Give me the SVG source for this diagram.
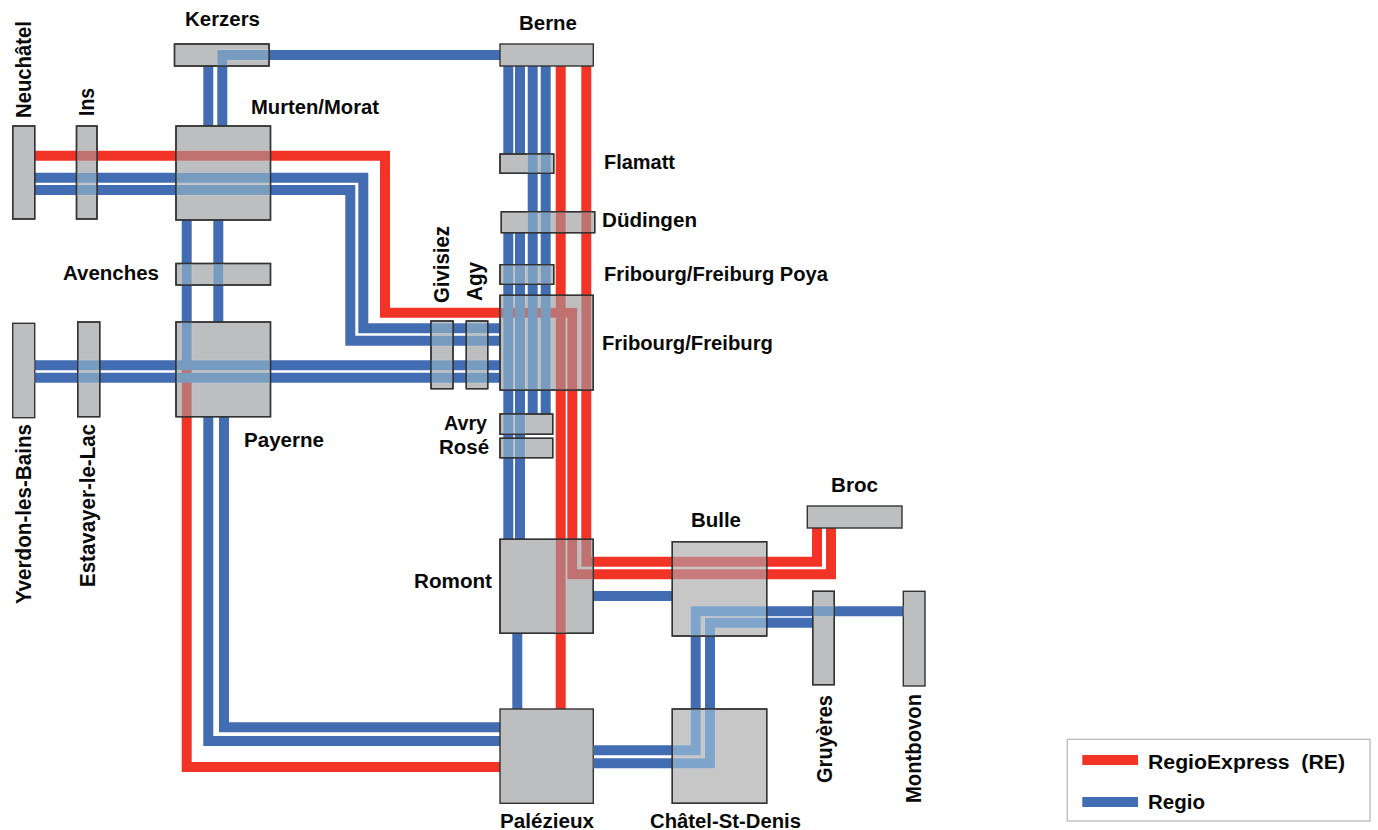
<svg xmlns="http://www.w3.org/2000/svg" width="1378" height="830" viewBox="0 0 1378 830">
<style>
.s{fill:#bdbec0;stroke:#333;stroke-width:1.4}
.l{fill:#c6c7c6;stroke:#333;stroke-width:1.4}
.o{fill:none;stroke:#333;stroke-width:1.4}
text{font-family:"Liberation Sans",Arial,sans-serif;font-weight:bold;font-size:20px;fill:#0a0a0a;white-space:pre}
text.v{font-size:22px}
.r{stroke:#f23427;stroke-width:10}.b{stroke:#436db3;stroke-width:10}
.r1{stroke:#c07270;stroke-width:10}.b1{stroke:#789cc0;stroke-width:10}
.r2{stroke:#c87b7a;stroke-width:10}.b2{stroke:#80a5cc;stroke-width:10}
.c{stroke:#cdcfd1;stroke-width:11}
#re path,#regio path{fill:none}
</style>
<defs>
<g id="re">
<path d="M34.7 155.7H385V312.7H572.3V574.3H831V528"/>
<path d="M586.3 66V561.7H817V528"/>
<path d="M560.7 66V709"/>
<path d="M186.7 370V767H500"/>
</g>
<g id="regio">
<path d="M34.7 177.7H363.3V328.3H500"/>
<path d="M34.7 190H350.3V340.7H500"/>
<path d="M34.7 365.3H500"/>
<path d="M34.7 377.7H500"/>
<path d="M208.3 66V126"/>
<path d="M222.3 126V55H500"/>
<path d="M186.7 220V370"/>
<path d="M218.3 220V322"/>
<path d="M208.3 416.7V741H500"/>
<path d="M224 416.7V727.3H500"/>
<path d="M508.3 66V154M520 66V154"/>
<path d="M508.3 232.7V539.3M520 232.7V539.3"/>
<path d="M532.7 66V414M545.7 66V414"/>
<path d="M593.3 596H672.3"/>
<path d="M517.3 633.3V709"/>
<path d="M593.3 750.3H695.7V611.3H903.3"/>
<path d="M593.3 763.3H710V622.7H812.7"/>
</g>
<clipPath id="cd">
<rect x="12.7" y="126" width="22" height="93"/><rect x="76.5" y="126" width="20.5" height="93"/>
<rect x="174.5" y="44" width="94.5" height="22"/><rect x="176" y="126" width="94.5" height="94"/>
<rect x="176" y="263.5" width="94.5" height="21.5"/><rect x="176" y="322" width="94.5" height="94.7"/>
<rect x="12.7" y="323.3" width="22" height="94.4"/><rect x="77.7" y="322" width="22" height="94.7"/>
<rect x="500" y="44" width="93.3" height="22"/><rect x="500" y="154" width="53.7" height="19.3"/>
<rect x="501.3" y="211.7" width="93.4" height="21"/><rect x="500" y="264.7" width="53.7" height="19.6"/>
<rect x="500" y="295.3" width="93.3" height="94.7"/><rect x="431" y="321" width="22" height="67.7"/>
<rect x="466.3" y="321" width="21.4" height="67.7"/><rect x="500" y="414" width="52.7" height="20.3"/>
<rect x="500" y="438.3" width="52.7" height="19.4"/><rect x="500" y="539.3" width="93.3" height="94"/>
<rect x="500" y="709" width="93.3" height="94.3"/><rect x="807.3" y="506" width="94.7" height="22"/>
<rect x="812.7" y="591.3" width="21.6" height="93.4"/><rect x="903.3" y="591.3" width="21.7" height="94.7"/>
</clipPath>
<clipPath id="cl">
<rect x="672.3" y="541.7" width="94.4" height="94.3"/><rect x="672.3" y="709" width="94.4" height="94.3"/>
</clipPath>
</defs>

<g id="connectors">
<use href="#re" class="r"/>
<use href="#regio" class="b"/>
</g>

<g id="n-neuchatel"><rect class="s" x="12.7" y="126" width="22" height="93"/><text class="v" transform="translate(31 118) rotate(-90)" textLength="97" lengthAdjust="spacingAndGlyphs">Neuchâtel</text></g>
<g id="n-ins"><rect class="s" x="76.5" y="126" width="20.5" height="93"/><text class="v" transform="translate(94 116) rotate(-90)" textLength="28" lengthAdjust="spacingAndGlyphs">Ins</text></g>
<g id="n-kerzers"><rect class="s" x="174.5" y="44" width="94.5" height="22"/><text x="185" y="26" textLength="75" lengthAdjust="spacingAndGlyphs">Kerzers</text></g>
<g id="n-murten"><rect class="s" x="176" y="126" width="94.5" height="94"/><text x="251" y="113.5" textLength="128" lengthAdjust="spacingAndGlyphs">Murten/Morat</text></g>
<g id="n-avenches"><rect class="s" x="176" y="263.5" width="94.5" height="21.5"/><text x="63" y="280" textLength="96" lengthAdjust="spacingAndGlyphs">Avenches</text></g>
<g id="n-payerne"><rect class="s" x="176" y="322" width="94.5" height="94.7"/><text x="244" y="447" textLength="80" lengthAdjust="spacingAndGlyphs">Payerne</text></g>
<g id="n-yverdon"><rect class="s" x="12.7" y="323.3" width="22" height="94.4"/><text class="v" transform="translate(31 604) rotate(-90)" textLength="180" lengthAdjust="spacingAndGlyphs">Yverdon-les-Bains</text></g>
<g id="n-estavayer"><rect class="s" x="77.7" y="322" width="22" height="94.7"/><text class="v" transform="translate(95 587) rotate(-90)" textLength="163" lengthAdjust="spacingAndGlyphs">Estavayer-le-Lac</text></g>
<g id="n-berne"><rect class="s" x="500" y="44" width="93.3" height="22"/><text x="519" y="30" textLength="58" lengthAdjust="spacingAndGlyphs">Berne</text></g>
<g id="n-flamatt"><rect class="s" x="500" y="154" width="53.7" height="19.3"/><text x="604" y="168.5" textLength="71" lengthAdjust="spacingAndGlyphs">Flamatt</text></g>
<g id="n-dudingen"><rect class="s" x="501.3" y="211.7" width="93.4" height="21"/><text x="602" y="226.5" textLength="95" lengthAdjust="spacingAndGlyphs">Düdingen</text></g>
<g id="n-poya"><rect class="s" x="500" y="264.7" width="53.7" height="19.6"/><text x="604" y="281" textLength="224" lengthAdjust="spacingAndGlyphs">Fribourg/Freiburg Poya</text></g>
<g id="n-fribourg"><rect class="s" x="500" y="295.3" width="93.3" height="94.7"/><text x="602" y="350" textLength="171" lengthAdjust="spacingAndGlyphs">Fribourg/Freiburg</text></g>
<g id="n-givisiez"><rect class="s" x="431" y="321" width="22" height="67.7"/><text class="v" transform="translate(448.5 303) rotate(-90)" textLength="77" lengthAdjust="spacingAndGlyphs">Givisiez</text></g>
<g id="n-agy"><rect class="s" x="466.3" y="321" width="21.4" height="67.7"/><text class="v" transform="translate(482 301) rotate(-90)" textLength="39" lengthAdjust="spacingAndGlyphs">Agy</text></g>
<g id="n-avry"><rect class="s" x="500" y="414" width="52.7" height="20.3"/><text x="444" y="430" textLength="43" lengthAdjust="spacingAndGlyphs">Avry</text></g>
<g id="n-rose"><rect class="s" x="500" y="438.3" width="52.7" height="19.4"/><text x="439" y="454" textLength="50" lengthAdjust="spacingAndGlyphs">Rosé</text></g>
<g id="n-romont"><rect class="s" x="500" y="539.3" width="93.3" height="94"/><text x="414" y="588" textLength="78" lengthAdjust="spacingAndGlyphs">Romont</text></g>
<g id="n-palezieux"><rect class="s" x="500" y="709" width="93.3" height="94.3"/><text x="500" y="828" textLength="94" lengthAdjust="spacingAndGlyphs">Palézieux</text></g>
<g id="n-bulle"><rect class="l" x="672.3" y="541.7" width="94.4" height="94.3"/><text x="691" y="527" textLength="50" lengthAdjust="spacingAndGlyphs">Bulle</text></g>
<g id="n-chatel"><rect class="l" x="672.3" y="709" width="94.4" height="94.3"/><text x="650" y="828" textLength="151" lengthAdjust="spacingAndGlyphs">Châtel-St-Denis</text></g>
<g id="n-broc"><rect class="s" x="807.3" y="506" width="94.7" height="22"/><text x="831" y="492" textLength="47" lengthAdjust="spacingAndGlyphs">Broc</text></g>
<g id="n-gruyeres"><rect class="s" x="812.7" y="591.3" width="21.6" height="93.4"/><text class="v" transform="translate(831.5 783) rotate(-90)" textLength="88" lengthAdjust="spacingAndGlyphs">Gruyères</text></g>
<g id="n-montbovon"><rect class="s" x="903.3" y="591.3" width="21.7" height="94.7"/><text class="v" transform="translate(921 803) rotate(-90)" textLength="109" lengthAdjust="spacingAndGlyphs">Montbovon</text></g>

<g id="crossings">
<g clip-path="url(#cd)"><use href="#re" class="c"/><use href="#regio" class="c"/><use href="#re" class="r1"/><use href="#regio" class="b1"/></g>
<g clip-path="url(#cl)"><use href="#re" class="c"/><use href="#regio" class="c"/><use href="#re" class="r2"/><use href="#regio" class="b2"/></g>
<g class="o">
<rect x="12.7" y="126" width="22" height="93"/><rect x="76.5" y="126" width="20.5" height="93"/>
<rect x="174.5" y="44" width="94.5" height="22"/><rect x="176" y="126" width="94.5" height="94"/>
<rect x="176" y="263.5" width="94.5" height="21.5"/><rect x="176" y="322" width="94.5" height="94.7"/>
<rect x="77.7" y="322" width="22" height="94.7"/>
<rect x="500" y="154" width="53.7" height="19.3"/>
<rect x="501.3" y="211.7" width="93.4" height="21"/><rect x="500" y="264.7" width="53.7" height="19.6"/>
<rect x="500" y="295.3" width="93.3" height="94.7"/><rect x="431" y="321" width="22" height="67.7"/>
<rect x="466.3" y="321" width="21.4" height="67.7"/><rect x="500" y="414" width="52.7" height="20.3"/>
<rect x="500" y="438.3" width="52.7" height="19.4"/><rect x="500" y="539.3" width="93.3" height="94"/>
<rect x="812.7" y="591.3" width="21.6" height="93.4"/>
<rect x="672.3" y="541.7" width="94.4" height="94.3"/><rect x="672.3" y="709" width="94.4" height="94.3"/>
</g>
</g>

<g id="legend">
<rect x="1067.3" y="739.3" width="302.7" height="81.7" fill="#fff" stroke="#bbb" stroke-width="1.3"/>
<path d="M1082.3 760H1138" fill="none" class="r"/>
<path d="M1082.3 802H1138" fill="none" class="b"/>
<text x="1148" y="768.5" textLength="197" lengthAdjust="spacingAndGlyphs">RegioExpress  (RE)</text>
<text x="1148" y="808.5" textLength="57" lengthAdjust="spacingAndGlyphs">Regio</text>
</g>
</svg>
